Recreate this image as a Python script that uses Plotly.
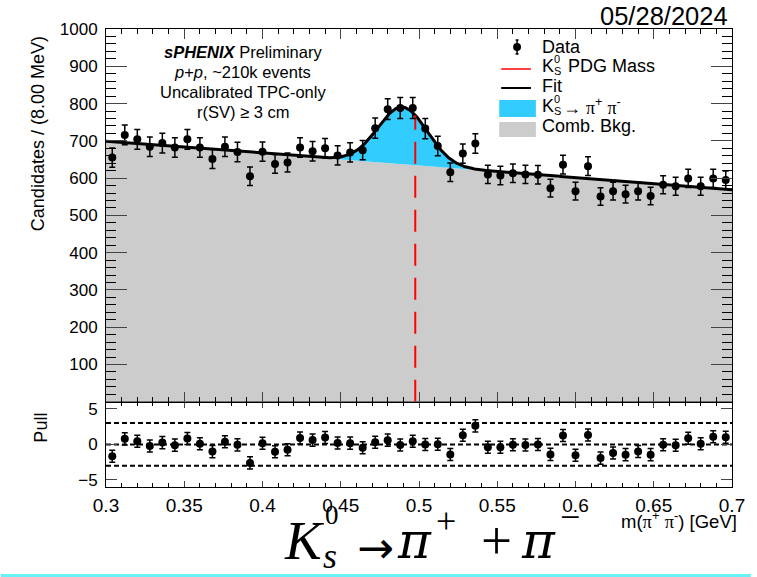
import numpy as np
import plotly.graph_objects as go

# ---- binning: 50 bins of 8 MeV between 0.3 and 0.7 GeV ----
mass_lo, mass_hi, n_bins = 0.30, 0.70, 50
bin_centers = mass_lo + (np.arange(n_bins) + 0.5) * (mass_hi - mass_lo) / n_bins

# candidates per bin
counts = [655, 716, 704, 684, 694, 682, 704, 682, 651, 684,
          670, 605, 671, 638, 642, 682, 672, 680, 661, 669,
          675, 734, 785, 788, 788, 733, 686, 616, 666, 693,
          610, 607, 613, 610, 609, 573, 636, 565, 632, 551,
          565, 557, 565, 552, 582, 578, 599, 578, 599, 595]

# fit result: linear combinatorial background + gaussian signal
bkg_at_lo, bkg_slope = 699.0, -325.0      # candidates, candidates / GeV
sig_amp, sig_mean, sig_sigma = 153.0, 0.4895, 0.0158
pdg_mass = 0.497611

y_ticks_main = [100, 200, 300, 400, 500, 600, 700, 800, 900, 1000]
y_ticks_pull = [-5, 0, 5]
x_ticks = [0.3, 0.35, 0.4, 0.45, 0.5, 0.55, 0.6, 0.65, 0.7]
x_tick_text = ["0.3", "0.35", "0.4", "0.45", "0.5", "0.55", "0.6", "0.65", "0.7"]


def bkg(m):
    return bkg_at_lo + bkg_slope * (np.asarray(m) - mass_lo)


def fit(m):
    m = np.asarray(m)
    return bkg(m) + sig_amp * np.exp(-0.5 * ((m - sig_mean) / sig_sigma) ** 2)


counts = np.array(counts, dtype=float)
errors = np.sqrt(counts)
pulls = (counts - fit(bin_centers)) / errors

grid = np.linspace(mass_lo, mass_hi, 801)

# ---- page geometry (pixels) ----
L, R, T, B = 106, 738, 29, 487
W, H = R - L, B - T


def px(x):
    return (x - L) / W


def py(y):
    return (B - y) / H


split = py(401.8)
FONT = "Liberation Sans"
SERIF = "Liberation Serif"
CYAN = "#33ccff"
GREY = "#cccccc"

fig = go.Figure()

# combinatorial background (filled to zero)
fig.add_trace(go.Scatter(x=grid, y=bkg(grid), mode="lines", line=dict(width=0),
                         fill="tozeroy", fillcolor=GREY, xaxis="x2", yaxis="y2",
                         hoverinfo="skip", showlegend=False))
# signal component between background and total fit
fig.add_trace(go.Scatter(x=grid, y=fit(grid), mode="lines", line=dict(width=0),
                         fill="tonexty", fillcolor=CYAN, xaxis="x2", yaxis="y2",
                         hoverinfo="skip", showlegend=False))
# total fit
fig.add_trace(go.Scatter(x=grid, y=fit(grid), mode="lines",
                         line=dict(color="black", width=3), xaxis="x2", yaxis="y2",
                         showlegend=False))
# PDG mass marker
fig.add_trace(go.Scatter(x=[pdg_mass, pdg_mass], y=[0, float(fit(pdg_mass))], mode="lines",
                         line=dict(color="#ff0000", width=2, dash="22px,12px"),
                         xaxis="x2", yaxis="y2", showlegend=False))
# data
fig.add_trace(go.Scatter(x=bin_centers, y=counts, mode="markers",
                         marker=dict(color="black", size=8),
                         error_y=dict(type="data", array=errors, color="black",
                                      thickness=1.5, width=3),
                         xaxis="x2", yaxis="y2", showlegend=False))
# pulls
fig.add_trace(go.Scatter(x=bin_centers, y=pulls, mode="markers",
                         marker=dict(color="black", size=8),
                         error_y=dict(type="data", array=np.full(n_bins, 0.85), color="black",
                                      thickness=1.5, width=3),
                         xaxis="x", yaxis="y", showlegend=False))

shapes = []
for level in (-3, 0, 3):
    shapes.append(dict(type="line", xref="x", yref="y", x0=mass_lo, x1=mass_hi,
                       y0=level, y1=level, line=dict(color="black", width=2, dash="5px,3px"),
                       layer="below"))

# hand-drawn legend symbols
lx0, lx1 = px(505), px(535)
shapes += [
    dict(type="line", xref="paper", yref="paper", x0=px(521), x1=px(521),
         y0=py(40), y1=py(54), line=dict(color="black", width=1.5)),
    dict(type="line", xref="paper", yref="paper", x0=px(519.5), x1=px(522.5),
         y0=py(40), y1=py(40), line=dict(color="black", width=1.5)),
    dict(type="line", xref="paper", yref="paper", x0=px(519.5), x1=px(522.5),
         y0=py(54), y1=py(54), line=dict(color="black", width=1.5)),
    dict(type="circle", xref="paper", yref="paper", x0=px(517), x1=px(525),
         y0=py(51), y1=py(43), fillcolor="black", line=dict(color="black", width=0)),
    dict(type="line", xref="paper", yref="paper", x0=lx0, x1=lx1, y0=py(69), y1=py(69),
         line=dict(color="#ff0000", width=1.5)),
    dict(type="line", xref="paper", yref="paper", x0=lx0, x1=lx1, y0=py(88), y1=py(88),
         line=dict(color="black", width=2)),
    dict(type="rect", xref="paper", yref="paper", x0=px(503), x1=px(540), y0=py(117), y1=py(100),
         fillcolor=CYAN, line=dict(width=0)),
    dict(type="rect", xref="paper", yref="paper", x0=px(503), x1=px(540), y0=py(137), y1=py(122),
         fillcolor=GREY, line=dict(width=0)),
    # thin cyan rule along the bottom edge
    dict(type="rect", xref="paper", yref="paper", x0=px(0), x1=px(757), y0=py(577), y1=py(574),
         fillcolor="#66f2f7", line=dict(width=0)),
]

ann = []


def text(x, y, s, size, xanchor="left", yanchor="middle", angle=0, family=FONT):
    ann.append(dict(x=px(x), y=py(y), xref="paper", yref="paper", text=s, showarrow=False,
                    xanchor=xanchor, yanchor=yanchor, textangle=angle, borderpad=0,
                    font=dict(family=family, size=size, color="black")))


def kshort(x, y, size):
    """K with stacked S subscript and 0 superscript."""
    text(x, y, "K", size)
    small = round(size * 0.62)
    text(x + 0.69 * size, y - 0.38 * size, "0", small)
    text(x + 0.69 * size, y + 0.30 * size, "S", small)


pi = f'<span style="font-family:{SERIF}">π</span>'
leg_size = 18
text(545, 47, "Data", leg_size)
kshort(545, 66, leg_size)
text(571, 66, "PDG Mass", leg_size)
text(545, 86, "Fit", leg_size)
kshort(545, 106, leg_size)
text(566, 106, f"→ {pi}<sup>+</sup> {pi}<sup>-</sup>", leg_size)
text(545, 126, "Comb. Bkg.", leg_size)

# label block
blk = 16.5
text(244, 52, "<b><i>sPHENIX</i></b> Preliminary", blk, xanchor="center")
text(244, 72, "<i>p</i>+<i>p</i>, ~210k events", blk, xanchor="center")
text(244, 92, "Uncalibrated TPC-only", blk, xanchor="center")
text(244, 112, "r(SV) ≥ 3 cm", blk, xanchor="center")

text(735, 16, "05/28/2024", 25.5, xanchor="right")

# axis titles
text(37, 35, "Candidates / (8.00 MeV)", 18, xanchor="center", yanchor="top", angle=-90)
text(40, 412, "Pull", 18, xanchor="center", yanchor="top", angle=-90)
text(744, 520, f"m({pi}<sup>+</sup> {pi}<sup>-</sup>) [GeV]", 18.5, xanchor="right")

# decay title, glyph by glyph
big = 55
PI_FONT = "DejaVu Serif"
text(306.5, 540, "<i>K</i>", big, xanchor="center", family=SERIF)
text(334, 515, "0", 27, xanchor="center", family=SERIF)
text(332, 556, "<i>s</i>", 36, xanchor="center", family=SERIF)
text(378.5, 547, "→", 44, xanchor="center", family="DejaVu Sans")
text(417, 541, "<i>π</i>", 50, xanchor="center", family=PI_FONT)
text(449, 521, "+", 36, xanchor="center", family=SERIF)
text(500, 540, "+", big, xanchor="center", family=SERIF)
text(543, 541, "<i>π</i>", 50, xanchor="center", family=PI_FONT)
text(574, 517, "−", 36, xanchor="center", family=SERIF)

axis_common = dict(showline=True, linecolor="black", linewidth=1, mirror="ticks",
                   ticks="inside", showgrid=False, zeroline=False,
                   tickfont=dict(family=FONT, size=17, color="black"))

fig.update_layout(
    width=757, height=577,
    margin=dict(l=L, r=757 - R, t=T, b=577 - B),
    paper_bgcolor="white", plot_bgcolor="white",
    showlegend=False,
    xaxis=dict(axis_common, domain=[0, 1], range=[mass_lo, mass_hi],
               tickvals=x_ticks, ticktext=x_tick_text, ticklen=6,
               tickfont=dict(family=FONT, size=19, color="black"),
               minor=dict(dtick=0.01, tick0=0.3, ticklen=4, ticks="inside", tickcolor="black"),
               anchor="y", ticklabelstandoff=1),
    yaxis=dict(axis_common, domain=[0, split], range=[-6, 6],
               tickvals=y_ticks_pull, ticktext=["−5", "0", "5"], ticklen=11,
               anchor="x", ticklabelstandoff=4),
    xaxis2=dict(axis_common, domain=[0, 1], range=[mass_lo, mass_hi], matches="x",
                tickvals=x_ticks, showticklabels=False, ticklen=10,
                minor=dict(dtick=0.01, tick0=0.3, ticklen=5, ticks="inside", tickcolor="black"),
                anchor="y2"),
    yaxis2=dict(axis_common, domain=[split, 1], range=[0, 1000],
                tickvals=y_ticks_main, ticklen=21,
                minor=dict(dtick=20, tick0=0, ticklen=10, ticks="inside", tickcolor="black"),
                anchor="x2", ticklabelstandoff=4),
    shapes=shapes,
    annotations=ann,
)

fig.write_html("out.html", config={"displayModeBar": False})
